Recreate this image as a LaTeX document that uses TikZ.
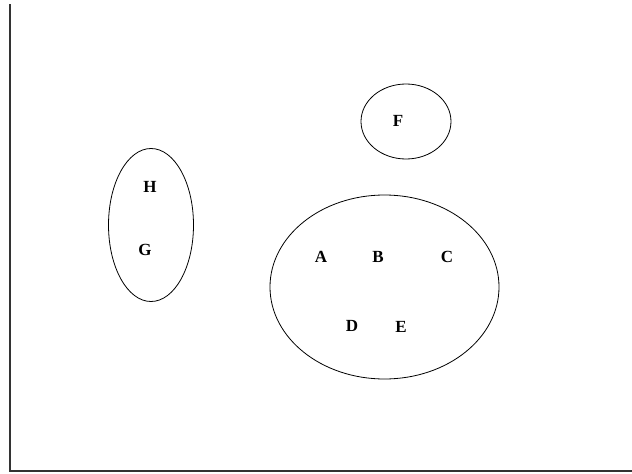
\documentclass[tikz,border=0pt]{standalone}
\usepackage{fontspec}
\setmainfont{Liberation Serif}
\usetikzlibrary{calc}
\tikzset{
  setline/.style={line width=.8pt,color=black},
  frameline/.style={line width=1.2pt,color=black!80},
  elt/.style={inner sep=0pt,font=\fontsize{17}{19}\selectfont\bfseries}
}

\begin{document}
\begin{tikzpicture}[x=1pt,y=-1pt]
\useasboundingbox (0,0) rectangle (632,474);

\coordinate (P0) at (10,4);
\coordinate (P1) at (10,471);
\coordinate (P2) at (632,471);
\draw[frameline] (P0) -- (P1) -- (P2);

\coordinate (SetHG) at (151,225);
\coordinate (SetF) at (406,121.5);
\coordinate (SetAE) at (384.5,287);

\draw[setline] (SetHG) ellipse [x radius=42.5,y radius=76.5];
\draw[setline] (SetF) ellipse [x radius=45,y radius=37.5];
\draw[setline] (SetAE) ellipse [x radius=114.5,y radius=92];

\node[elt] (H) at (150,187) {H};
\node[elt] (G) at (145,250) {G};
\node[elt] (F) at (398,121) {F};
\node[elt] (A) at (321,257) {A};
\node[elt] (B) at (378,257) {B};
\node[elt] (C) at (447,257) {C};
\node[elt] (D) at (352,326) {D};
\node[elt] (E) at (401,327) {E};

\end{tikzpicture}
\end{document}
